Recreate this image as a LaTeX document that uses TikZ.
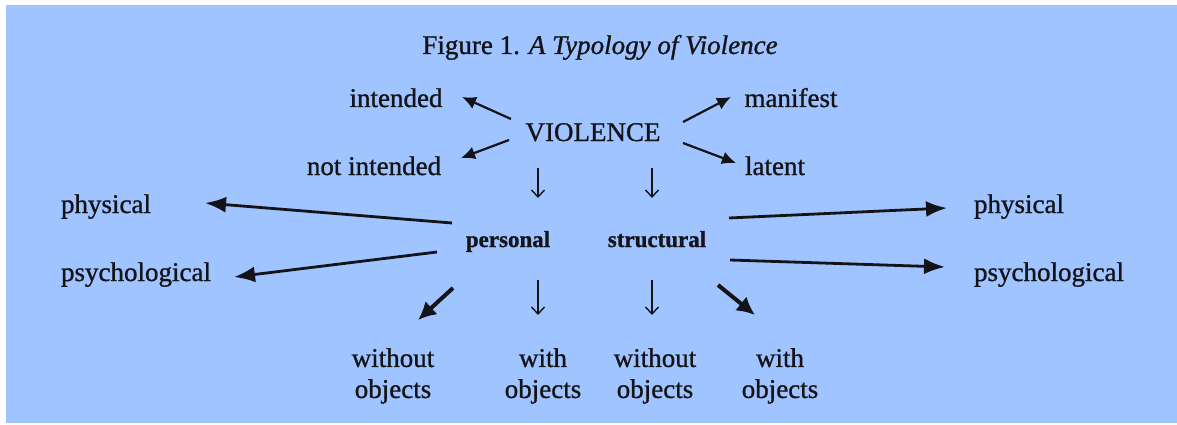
\documentclass[tikz,border=0pt]{standalone}
\usepackage{fontspec}
\setmainfont{Liberation Serif}[FakeBold=1.0]
\usetikzlibrary{arrows.meta}
\definecolor{bgblue}{RGB}{159,196,255}
\definecolor{ink}{RGB}{20,20,24}
\tikzset{
  lbl/.style={anchor=base, inner sep=0pt, text=ink, font=\fontsize{27}{31}\selectfont},
  blbl/.style={anchor=base, inner sep=0pt, text=ink, font=\fontsize{23}{27}\selectfont\bfseries},
  tlbl/.style={anchor=north, inner sep=0pt, text=ink, align=center, font=\fontsize{27}{31}\selectfont},
  medarr/.style={draw=ink, line width=2.2pt, -{Latex[length=14pt,width=13pt]}},
  bigarr/.style={draw=ink, line width=2.8pt, -{Latex[length=21pt,width=16pt]}},
  fatarr/.style={draw=ink, line width=4pt, -{Latex[length=18pt,width=18pt]}},
  thinarr/.style={draw=ink, line width=1.4pt, -{Straight Barb[length=7pt,width=13pt]}}
}
\begin{document}
\begin{tikzpicture}[x=1pt,y=-1pt]
\useasboundingbox (0,0) rectangle (1177,425);
\fill[white] (0,0) rectangle (1177,425);
\fill[bgblue] (6,5) rectangle (1177,423);

\node[lbl, font=\fontsize{27}{31}\selectfont] (title) at (600,54) {Figure 1. \textit{A Typology of Violence}};
\node[lbl] (violence) at (593,141) {VIOLENCE};
\node[lbl] (intended) at (396,107) {intended};
\node[lbl] (notint) at (374,175) {not intended};
\node[lbl] (manifest) at (791,107) {manifest};
\node[lbl] (latent) at (775,175) {latent};
\node[lbl] (physL) at (106,213) {physical};
\node[lbl] (psychL) at (136,281) {psychological};
\node[blbl] (personal) at (508,247) {personal};
\node[blbl] (structural) at (657,247) {structural};
\node[lbl] (physR) at (1019,213) {physical};
\node[lbl] (psychR) at (1049,281) {psychological};
\node[tlbl] (wo1) at (393,348) {without\\objects};
\node[tlbl] (w1) at (543,348) {with\\objects};
\node[tlbl] (wo2) at (655,348) {without\\objects};
\node[tlbl] (w2) at (780,348) {with\\objects};

% from VIOLENCE
\draw[medarr] ([shift={(-82,-22)}]violence.base) -- ([shift={(66,-10)}]intended.base);
\draw[medarr] ([shift={(-84,-1)}]violence.base) -- ([shift={(87,-17)}]notint.base);
\draw[medarr] ([shift={(90,-19)}]violence.base) -- ([shift={(-60,-10)}]manifest.base);
\draw[medarr] ([shift={(90,2)}]violence.base) -- ([shift={(-39,-12)}]latent.base);
\draw[thinarr] ([shift={(-55,27)}]violence.base) -- ([shift={(30,-49)}]personal.base);
\draw[thinarr] ([shift={(59,27)}]violence.base) -- ([shift={(-5,-49)}]structural.base);

% personal
\draw[bigarr] ([shift={(-56,-24)}]personal.base) -- ([shift={(99,-10)}]physL.base);
\draw[bigarr] ([shift={(-71,5)}]personal.base) -- ([shift={(98,-4)}]psychL.base);
\draw[fatarr] ([shift={(-55,41)}]personal.base) -- ([shift={(25,-28)}]wo1.north);
\draw[thinarr] ([shift={(30,33)}]personal.base) -- ([shift={(-5,-33)}]w1.north);

% structural
\draw[bigarr] ([shift={(72,-29)}]structural.base) -- ([shift={(-72,-5)}]physR.base);
\draw[bigarr] ([shift={(73,13)}]structural.base) -- ([shift={(-104,-14)}]psychR.base);
\draw[thinarr] ([shift={(-5,33)}]structural.base) -- ([shift={(-3,-33)}]wo2.north);
\draw[fatarr] ([shift={(61,38)}]structural.base) -- ([shift={(-25,-33)}]w2.north);
\end{tikzpicture}
\end{document}
